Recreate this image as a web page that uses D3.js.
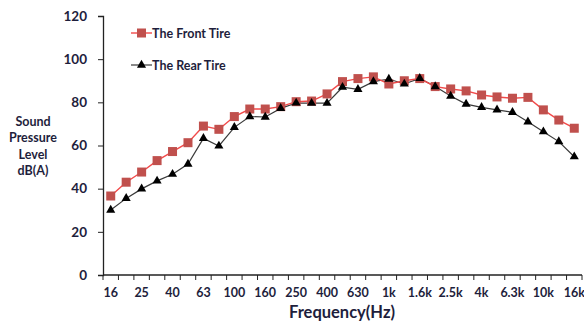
<!DOCTYPE html>
<html>
<head>
<meta charset="utf-8">
<script src="https://cdn.jsdelivr.net/npm/d3@7/dist/d3.min.js"></script>
<style>
  html, body { margin: 0; padding: 0; background: #fff; }
  svg { display: block; }
  text { font-family: Lato, "Open Sans", sans-serif; font-weight: bold; fill: #1e1e3c; }
</style>
</head>
<body>
<svg id="chart" width="584" height="321"></svg>
<script>
// One-third octave band centre frequencies
const bands = ["16","20","25","31.5","40","50","63","80","100","125","160","200","250","315","400","500",
  "630","800","1k","1.25k","1.6k","2k","2.5k","3.15k","4k","5k","6.3k","8k","10k","12.5k","16k"];
// Every other band gets a label
const tickLabels = ["16","25","40","63","100","160","250","400","630","1k","1.6k","2.5k","4k","6.3k","10k","16k"];
const yTicks = [0, 20, 40, 60, 80, 100, 120];

// Sound pressure level, dB(A)
const frontTire = [36.6, 43.0, 47.7, 53.0, 57.2, 61.3, 69.0, 67.5, 73.4, 76.9, 76.9, 78.0, 80.3, 80.6, 83.9, 89.6,
  91.0, 91.8, 88.5, 90.0, 91.0, 87.3, 86.2, 85.3, 83.4, 82.5, 81.9, 82.3, 76.5, 71.8, 68.0];
const rearTire = [30.1, 35.5, 39.9, 43.6, 46.7, 51.4, 63.3, 59.8, 68.4, 73.4, 73.2, 77.2, 79.7, 79.6, 79.6, 87.0,
  86.0, 89.6, 90.8, 88.5, 91.1, 87.3, 82.9, 79.2, 77.7, 76.5, 75.4, 71.0, 66.4, 61.8, 54.8];

const svg = d3.select("#chart");
const plotLeft = 103, plotRight = 582, plotTop = 16, plotBottom = 275;

const x = d3.scaleBand().domain(bands).range([plotLeft, plotRight]).paddingInner(0).paddingOuter(0);
const y = d3.scaleLinear().domain([0, 120]).range([plotBottom, plotTop]);
const cx = d => x(d) + x.bandwidth() / 2;

// Y axis
const yAxis = svg.append("g").attr("transform", `translate(${plotLeft},0)`)
  .call(d3.axisLeft(y).tickValues(yTicks).tickSize(5).tickPadding(11).tickFormat(d3.format("d")));
yAxis.select(".domain").attr("stroke", "#222").attr("stroke-width", 1.3);
yAxis.selectAll(".tick line").attr("stroke", "#222");
yAxis.selectAll("text").attr("font-size", 13.5).style("font-family", "Lato, sans-serif").attr("fill", "#1e1e3c");

// X axis: ticks on band boundaries, labels on every other band centre
const xAxisG = svg.append("g");
xAxisG.append("line").attr("x1", plotLeft).attr("x2", plotRight).attr("y1", plotBottom).attr("y2", plotBottom)
  .attr("stroke", "#222").attr("stroke-width", 1.3);
const boundaries = bands.map(b => x(b)).concat([plotRight]);
xAxisG.selectAll("line.tk").data(boundaries).join("line").attr("class", "tk")
  .attr("x1", d => d).attr("x2", d => d).attr("y1", plotBottom).attr("y2", plotBottom + 5).attr("stroke", "#222");
xAxisG.selectAll("text").data(tickLabels).join("text")
  .attr("x", d => cx(d)).attr("y", 297).attr("text-anchor", "middle").attr("font-size", 12.5).text(d => d);

// Axis titles
svg.append("text").attr("x", 342).attr("y", 318).attr("text-anchor", "middle").attr("font-size", 16.5)
  .text("Frequency(Hz)");
const yTitle = svg.append("text").attr("text-anchor", "middle").attr("font-size", 12.5);
["Sound", "Pressure", "Level", "dB(A)"].forEach((t, i) => {
  yTitle.append("tspan").attr("x", 33).attr("y", 126 + i * 16.3).text(t);
});

// Series
const line = d3.line().x((d, i) => cx(bands[i])).y(d => y(d));

svg.append("path").datum(rearTire).attr("d", line).attr("fill", "none")
  .attr("stroke", "#3a3a3a").attr("stroke-width", 1.2);
svg.append("path").datum(frontTire).attr("d", line).attr("fill", "none")
  .attr("stroke", "#f24a4a").attr("stroke-width", 1.4);

const tri = d3.symbol().type(d3.symbolTriangle).size(36);
const sq = 9;

svg.selectAll("rect.front").data(frontTire).join("rect").attr("class", "front")
  .attr("x", (d, i) => cx(bands[i]) - sq / 2).attr("y", d => y(d) - sq / 2)
  .attr("width", sq).attr("height", sq).attr("fill", "#c0504d");
svg.selectAll("path.rear").data(rearTire).join("path").attr("class", "rear")
  .attr("transform", (d, i) => `translate(${cx(bands[i])},${y(d)})`)
  .attr("d", tri).attr("fill", "#000");

// Legend
const legend = [
  { name: "The Front Tire", yy: 33, type: "front" },
  { name: "The Rear Tire", yy: 65, type: "rear" }
];
legend.forEach(l => {
  const g = svg.append("g");
  g.append("line").attr("x1", 131).attr("x2", 152).attr("y1", l.yy).attr("y2", l.yy)
    .attr("stroke", l.type === "front" ? "#f24a4a" : "#3a3a3a").attr("stroke-width", l.type === "front" ? 1.4 : 1.2);
  if (l.type === "front") {
    g.append("rect").attr("x", 141.5 - sq / 2).attr("y", l.yy - sq / 2).attr("width", sq).attr("height", sq).attr("fill", "#c0504d");
  } else {
    g.append("path").attr("transform", `translate(141.5,${l.yy})`).attr("d", tri).attr("fill", "#000");
  }
  g.append("text").attr("x", 152).attr("y", l.yy + 4.5).attr("font-size", 12.5).text(l.name);
});
</script>
</body>
</html>
